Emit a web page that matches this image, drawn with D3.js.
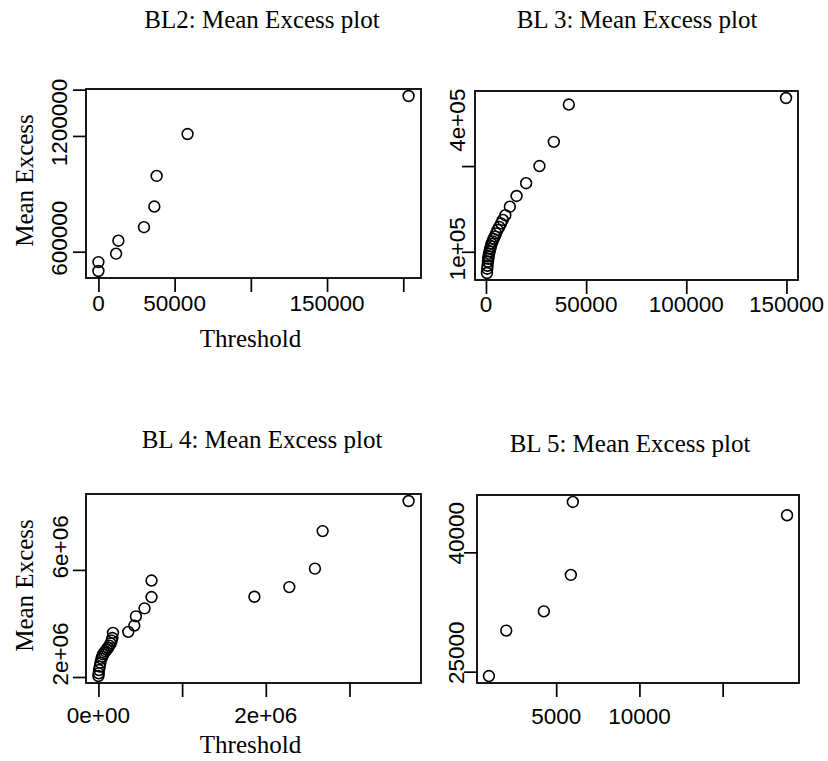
<!DOCTYPE html>
<html><head><meta charset="utf-8">
<script src="https://cdn.jsdelivr.net/npm/d3@7"></script>
<style>
body{margin:0;background:#fff;}
svg{display:block;}
</style></head><body>
<svg id="chart" width="828" height="761"></svg>
<script>
// ---------------- data ----------------
const bl2Threshold  = [0, 0, 11600, 13100, 29900, 36700, 38200, 58500, 203500];
const bl2MeanExcess = [546000, 500000, 590000, 657000, 727000, 834000, 993000, 1210000, 1407000];
const bl2XTicks = [0, 50000, 100000, 150000, 200000];
const bl2XLabels = ["0", "50000", "", "150000", ""];
const bl2YTicks = [600000, 1200000, 1440000];
const bl2YLabelValues = [600000, 1200000];
const bl2YLabels = ["600000", "1200000"];

const bl3Threshold  = [500, 650, 800, 1000, 1150, 1300, 1550, 1800, 2150, 2450, 2800, 3300, 3800, 4400, 5050, 5800, 6650, 7550, 8400, 9670, 11930, 15280, 20040, 26700, 33870, 41380, 149800];
const bl3MeanExcess = [50500, 60500, 67400, 76700, 83700, 89500, 95300, 101200, 107000, 112800, 118600, 124400, 130200, 136000, 143000, 151200, 158100, 166300, 174400, 185300, 205300, 230200, 260000, 300000, 356500, 443500, 458800];
const bl3XTicks = [0, 50000, 100000, 150000];
const bl3XLabels = ["0", "50000", "100000", "150000"];
const bl3YTicks = [100000, 300000];
const bl3YLabelValues = [100000, 400000];
const bl3YLabels = ["1e+05", "4e+05"];

const bl4Threshold  = [0, 3600, 7100, 15500, 23800, 35700, 45000, 54800, 70000, 83300, 100000, 114300, 130000, 146400, 158000, 166700, 174000, 357000, 428600, 448000, 551000, 634500, 634500, 1864000, 2281000, 2587000, 2679000, 3706000];
const bl4MeanExcess = [2037000, 2137000, 2260000, 2386000, 2535000, 2683000, 2760000, 2843000, 2900000, 2966000, 3030000, 3092000, 3170000, 3252000, 3360000, 3456000, 3649000, 3686000, 3920000, 4266000, 4563000, 4986000, 5603000, 4997000, 5357000, 6048000, 7449000, 8574000];
const bl4XTicks = [0, 1000000, 2000000, 3000000];
const bl4XLabels = ["0e+00", "", "2e+06", ""];
const bl4YTicks = [2000000, 6000000];
const bl4YLabelValues = [2000000, 6000000];
const bl4YLabels = ["2e+06", "6e+06"];

const bl5Threshold  = [960, 2000, 4260, 5880, 6000, 18870];
const bl5MeanExcess = [24450, 30160, 32580, 37160, 46330, 44660];
const bl5XTicks = [5000, 10000, 15000];
const bl5XLabels = ["5000", "10000", ""];
const bl5YTicks = [25000, 40000];
const bl5YLabelValues = [25000, 40000];
const bl5YLabels = ["25000", "40000"];

const titles = ["BL2: Mean Excess plot", "BL 3: Mean Excess plot", "BL 4: Mean Excess plot", "BL 5: Mean Excess plot"];

// ---------------- layout ----------------
const panels = [
  {title: titles[0], x: bl2Threshold, y: bl2MeanExcess, xt: bl2XTicks, xl: bl2XLabels, yt: bl2YTicks, ylv: bl2YLabelValues, yl: bl2YLabels,
   box: {l: 86, r: 421, t: 89, b: 278}, titleX: 262, titleY: 28, xLabBase: 311, yLabBase: 67, yShift: -13.5, xlab: 347, ylab: true},
  {title: titles[1], x: bl3Threshold, y: bl3MeanExcess, xt: bl3XTicks, xl: bl3XLabels, yt: bl3YTicks, ylv: bl3YLabelValues, yl: bl3YLabels,
   box: {l: 475, r: 798, t: 91, b: 280}, titleX: 637, titleY: 28, xLabBase: 311.5, yLabBase: 465, yShift: -3, xlab: null, ylab: false},
  {title: titles[2], x: bl4Threshold, y: bl4MeanExcess, xt: bl4XTicks, xl: bl4XLabels, yt: bl4YTicks, ylv: bl4YLabelValues, yl: bl4YLabels,
   box: {l: 86, r: 421, t: 494, b: 683}, titleX: 262, titleY: 448, xLabBase: 723, yLabBase: 68, yShift: -23, xlab: 753, ylab: true},
  {title: titles[3], x: bl5Threshold, y: bl5MeanExcess, xt: bl5XTicks, xl: bl5XLabels, yt: bl5YTicks, ylv: bl5YLabelValues, yl: bl5YLabels,
   box: {l: 477, r: 799, t: 495, b: 683}, titleX: 630, titleY: 452, xLabBase: 724, yLabBase: 464, yShift: -19, xlab: null, ylab: false}
];

const SERIF = "'Liberation Serif','Times New Roman',Times,serif";
const SANS = "'Liberation Sans',Arial,Helvetica,sans-serif";
const svg = d3.select("#chart");
svg.append("rect").attr("width", 828).attr("height", 761).attr("fill", "#fff");

function padded(vals) {
  const [lo, hi] = d3.extent(vals);
  const p = (hi - lo) * 0.04;
  return [lo - p, hi + p];
}

panels.forEach(p => {
  const g = svg.append("g");
  const xs = d3.scaleLinear().domain(padded(p.x)).range([p.box.l, p.box.r]);
  const ys = d3.scaleLinear().domain(padded(p.y)).range([p.box.b, p.box.t]);

  // title
  g.append("text").attr("x", p.titleX).attr("y", p.titleY).attr("text-anchor", "middle")
    .attr("font-family", SERIF).attr("font-size", 25).attr("fill", "#000").text(p.title);

  // x axis ticks
  const xa = d3.axisBottom(xs).tickValues(p.xt).tickFormat("").tickSize(14).tickSizeOuter(0);
  const gx = g.append("g").attr("transform", `translate(0,${p.box.b})`).call(xa);
  gx.select(".domain").remove();
  gx.selectAll("line").attr("stroke", "#000").attr("stroke-width", 1.7);
  g.selectAll(null).data(p.xt.map((v, i) => ({v, t: p.xl[i]})).filter(d => d.t)).enter()
    .append("text").attr("x", d => xs(d.v)).attr("y", p.xLabBase).attr("text-anchor", "middle")
    .attr("font-family", SANS).attr("font-size", 22.5).attr("fill", "#000").text(d => d.t);

  // y axis ticks
  const ya = d3.axisLeft(ys).tickValues(p.yt).tickFormat("").tickSize(13).tickSizeOuter(0);
  const gy = g.append("g").attr("transform", `translate(${p.box.l},0)`).call(ya);
  gy.select(".domain").remove();
  gy.selectAll("line").attr("stroke", "#000").attr("stroke-width", 1.7);
  g.selectAll(null).data(p.ylv.map((v, i) => ({v, t: p.yl[i]}))).enter()
    .append("text")
    .attr("transform", d => `translate(${p.yLabBase},${ys(d.v) + p.yShift}) rotate(-90)`)
    .attr("text-anchor", "middle").attr("font-family", SANS).attr("font-size", 22.5).attr("fill", "#000")
    .text(d => d.t);

  // box
  g.append("rect").attr("x", p.box.l).attr("y", p.box.t)
    .attr("width", p.box.r - p.box.l).attr("height", p.box.b - p.box.t)
    .attr("fill", "none").attr("stroke", "#000").attr("stroke-width", 1.8);

  // points
  g.selectAll(null).data(p.x.map((v, i) => [v, p.y[i]])).enter()
    .append("circle").attr("cx", d => xs(d[0])).attr("cy", d => ys(d[1])).attr("r", 5.4)
    .attr("fill", "none").attr("stroke", "#000").attr("stroke-width", 1.6);

  // axis titles
  if (p.xlab) {
    g.append("text").attr("x", (p.box.l + p.box.r) / 2 - 3).attr("y", p.xlab).attr("text-anchor", "middle")
      .attr("font-family", SERIF).attr("font-size", 25).attr("fill", "#000").text("Threshold");
  }
  if (p.ylab) {
    const cy = (p.box.t + p.box.b) / 2 - 3;
    g.append("text").attr("transform", `translate(33,${cy}) rotate(-90)`).attr("text-anchor", "middle")
      .attr("font-family", SERIF).attr("font-size", 25).attr("fill", "#000").text("Mean Excess");
  }
});
</script>
</body></html>
